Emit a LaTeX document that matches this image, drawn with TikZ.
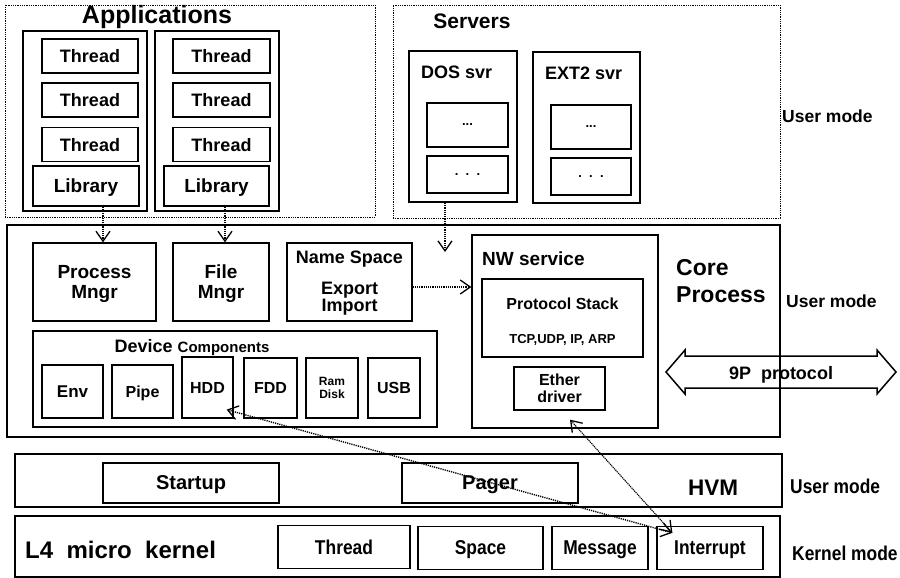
\documentclass[tikz,border=0pt]{standalone}
\usepackage{fontspec}
\setmainfont{Liberation Sans}
\newfontfamily\narrowsans{Liberation Sans}[FakeStretch=0.87]
\usetikzlibrary{arrows.meta}

\newcommand\fsz[1]{\fontsize{#1}{#1}\selectfont\bfseries}

\tikzset{
  box/.style={draw, line width=1.3pt, inner sep=0pt, align=center, text depth=0pt},
  heavy/.style={draw, line width=2pt, inner sep=0pt},
  zone/.style={draw, line width=0.8pt, densely dotted, inner sep=0pt},
  txt/.style={inner sep=0pt, align=center},
  flow/.style={line width=1.4pt, dash pattern=on 1.2pt off 1pt},
  barb/.style={-{Straight Barb[length=10pt,width=14pt,line width=1.3pt]}},
  barbs/.style={{Straight Barb[length=10pt,width=14pt,line width=1.3pt]}-{Straight Barb[length=10pt,width=14pt,line width=1.3pt]}},
}

\begin{document}
\begin{tikzpicture}[x=1pt, y=-1pt]
\useasboundingbox (0,0) rectangle (900,578);

% ---------- user-level zones ----------
\node[zone, minimum width=370pt, minimum height=212pt] (apps) at (190,111) {};
\node[txt, font=\fsz{25}, anchor=base] (appsT) at (157,24) {Applications};
\node[zone, minimum width=387pt, minimum height=213pt] (srv) at (586.5,111.5) {};
\node[txt, font=\fsz{21}, anchor=base] (srvT) at (472,29) {Servers};
\node[txt, font=\fsz{17.5}, anchor=base west] (um1) at (782,122) {User mode};

% application 1
\node[heavy, minimum width=124pt, minimum height=180pt] (app1) at (85,121) {};
\foreach \y [count=\i] in {56,100,144.5}
  \node[box, minimum width=96pt, minimum height=34pt, font=\fsz{18}] (a1t\i) at (90,\y) {Thread};
\node[box, minimum width=106pt, minimum height=40pt, font=\fsz{19}] (lib1) at (86,186) {Library};

% application 2
\node[heavy, minimum width=124pt, minimum height=180pt] (app2) at (217,121) {};
\foreach \y [count=\i] in {56,100,144.5}
  \node[box, minimum width=97pt, minimum height=34pt, font=\fsz{18}] (a2t\i) at (221.5,\y) {Thread};
\node[box, minimum width=105pt, minimum height=40pt, font=\fsz{19}] (lib2) at (216.5,186) {Library};

% servers
\node[heavy, minimum width=108pt, minimum height=151pt] (dos) at (463,126.5) {};
\node[txt, font=\fsz{18}, anchor=base west] (dosT) at (421,78) {DOS svr};
\node[box, minimum width=81pt, minimum height=44pt, font=\fsz{13}] (dos1) at (467.5,125) {...};
\node[box, minimum width=81pt, minimum height=37pt, font=\fsz{13}] (dos2) at (467.5,174.5) {.\ \ .\ \ .};
\node[heavy, minimum width=107pt, minimum height=151pt] (ext) at (586.5,127.5) {};
\node[txt, font=\fsz{18}, anchor=base west] (extT) at (545,80) {EXT2 svr};
\node[box, minimum width=80pt, minimum height=44pt, font=\fsz{13}] (ext1) at (591,127) {...};
\node[box, minimum width=80pt, minimum height=37pt, font=\fsz{13}] (ext2) at (591,176.5) {.\ \ .\ \ .};

% ---------- core process ----------
\draw[line width=1.5pt] (666,372) -- (685,350) -- (685,356) -- (877,356) -- (877,350)
  -- (896,372) -- (877,394) -- (877,388) -- (685,388) -- (685,394) -- cycle;
\node[txt, font=\fsz{18}, anchor=base] (ninep) at (781,379) {9P\ \ protocol};

\node[heavy, minimum width=773pt, minimum height=212pt] (core) at (393.5,331) {};
\node[txt, font=\fsz{23}, anchor=base west] (coreT) at (676,275) {Core};
\node[txt, font=\fsz{23}, anchor=base west] (coreT2) at (676,302) {Process};
\node[txt, font=\fsz{17.5}, anchor=base west] (um2) at (786,307) {User mode};

\node[box, minimum width=123pt, minimum height=78pt, font=\fsz{19}] (pm) at (94.5,282) {Process\\[1pt]Mngr};
\node[box, minimum width=96pt, minimum height=78pt, font=\fsz{19}] (fm) at (221,282) {File\\[1pt]Mngr};
\node[box, minimum width=125pt, minimum height=78pt] (ns) at (349.5,282) {};
\node[txt, font=\fsz{18}, anchor=base] (nsT) at (349.5,263) {Name Space};
\node[txt, font=\fsz{18}, anchor=base] (nsT2) at (349.5,294) {Export};
\node[txt, font=\fsz{18}, anchor=base] (nsT3) at (349.5,311) {Import};

\node[box, minimum width=404pt, minimum height=96pt] (dev) at (235,379) {};
\node[txt, anchor=base] (devT) at (192,352) {\fsz{18}Device \fsz{15}Components};
\node[box, minimum width=61pt, minimum height=53pt, font=\fsz{17}] (env) at (72.5,391.5) {Env};
\node[box, minimum width=61pt, minimum height=53pt, font=\fsz{16}] (pipe) at (142.5,391.5) {Pipe};
\node[box, minimum width=51pt, minimum height=61pt, font=\fsz{16}] (hdd) at (207.5,387.5) {HDD};
\node[box, minimum width=53pt, minimum height=60pt, font=\fsz{16}] (fdd) at (270.5,388) {FDD};
\node[box, minimum width=52pt, minimum height=60pt, font=\fsz{12}] (ram) at (332,388) {Ram\\[1pt]Disk};
\node[box, minimum width=52pt, minimum height=60pt, font=\fsz{16}] (usb) at (394,388) {USB};

\node[box, minimum width=186pt, minimum height=193pt] (nw) at (565,331.5) {};
\node[txt, font=\fsz{19}, anchor=base west] (nwT) at (482,265) {NW service};
\node[box, minimum width=161pt, minimum height=78pt] (ps) at (562.5,318) {};
\node[txt, font=\fsz{16}, anchor=base] (psT) at (562.5,309) {Protocol Stack};
\node[txt, font=\fsz{13}, anchor=base] (psT2) at (562.5,343) {TCP,UDP, IP, ARP};
\node[box, minimum width=91pt, minimum height=43pt, font=\fsz{16}] (eth) at (559.5,388.5) {Ether\\[1pt]driver};

% ---------- HVM ----------
\node[heavy, minimum width=767pt, minimum height=53pt] (hvm) at (398.5,480.5) {};
\node[box, minimum width=176pt, minimum height=40pt, font=\fsz{20}] (start) at (191,483) {Startup};
\node[box, minimum width=176pt, minimum height=40pt, font=\fsz{20}] (pager) at (490,483) {Pager};
\node[txt, font=\fsz{22.5}, anchor=base] (hvmT) at (713,495) {HVM};
\node[txt, font=\narrowsans\fsz{20}, anchor=base west] (um3) at (790,493) {User mode};

% ---------- L4 kernel ----------
\node[heavy, minimum width=765pt, minimum height=61pt] (l4) at (397.5,546) {};
\node[txt, font=\fsz{24}, anchor=base west] (l4T) at (25,558) {L4\ \ micro\ \ kernel};
\node[box, minimum width=132pt, minimum height=43pt, font=\narrowsans\fsz{20}] (kth) at (344,547) {Thread};
\node[box, minimum width=125pt, minimum height=43pt, font=\narrowsans\fsz{20}] (ksp) at (480.5,548) {Space};
\node[box, minimum width=96pt, minimum height=43pt, font=\narrowsans\fsz{20}] (kmsg) at (600,548) {Message};
\node[box, minimum width=106pt, minimum height=43pt, font=\narrowsans\fsz{20}] (kint) at (710,548) {Interrupt};
\node[txt, font=\narrowsans\fsz{20}, anchor=base west] (km) at (792,560) {Kernel mode};

% ---------- connectors ----------
\coordinate (dosIn) at (445,252);
\draw[flow, barb] ([xshift=17pt]lib1.south) -- ([xshift=8.5pt]pm.north);
\draw[flow, barb] ([xshift=8.5pt]lib2.south) -- ([xshift=4pt]fm.north);
\draw[flow, barb] (dos.south -| dosIn) -- (dosIn);
\draw[flow, barb] ([yshift=-5pt]ns.east) -- ([yshift=-5pt]ns.east -| nw.west);
\draw[flow, barbs] ([xshift=-7pt, yshift=9pt]hdd.south east) -- ([xshift=16pt, yshift=-7pt]kint.north west);
\draw[line width=1.1pt, dash pattern=on 1.2pt off 0.8pt, barbs] ([xshift=10.5pt, yshift=-9pt]eth.south) -- ([xshift=16pt, yshift=-7pt]kint.north west);
\end{tikzpicture}
\end{document}
